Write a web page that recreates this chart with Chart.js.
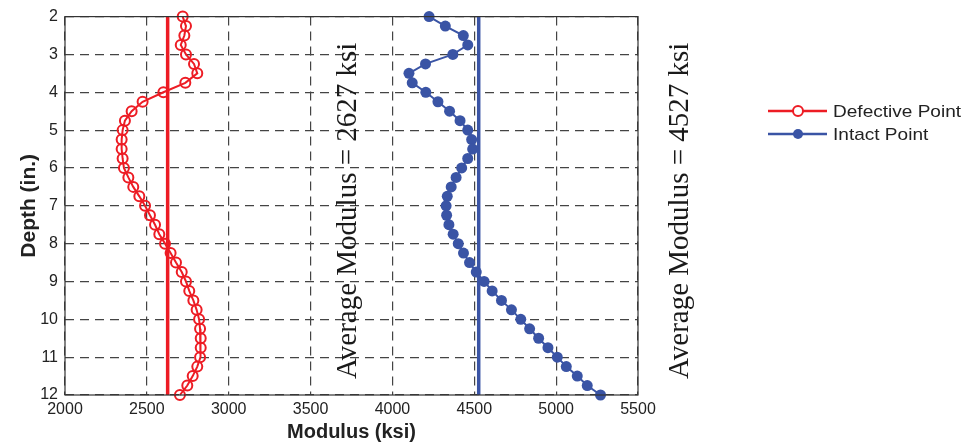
<!DOCTYPE html>
<html>
<head>
<meta charset="utf-8">
<script src="https://cdn.jsdelivr.net/npm/chart.js@4"></script>
<style>
  html, body { margin: 0; padding: 0; background: #fff; }
  #wrap { width: 964px; height: 444px; position: relative; }
</style>
</head>
<body>
<div id="wrap"><canvas id="c" width="964" height="444"></canvas></div>
<script>
// ---- data ----
const depths = [2,2.25,2.5,2.75,3,3.25,3.5,3.75,4,4.25,4.5,4.75,5,5.25,5.5,5.75,6,6.25,6.5,6.75,7,
  7.25,7.5,7.75,8,8.25,8.5,8.75,9,9.25,9.5,9.75,10,10.25,10.5,10.75,11,11.25,11.5,11.75,12];
const defectiveModulus = [2719,2739,2729,2707,2739,2788,2808,2735,2601,2474,2407,2366,2352,2346,2346,2352,2360,2387,2417,2454,2489,
  2519,2550,2576,2611,2645,2678,2713,2739,2759,2784,2804,2819,2825,2829,2829,2825,2808,2780,2747,2702];
const intactModulus = [4224,4323,4433,4460,4369,4202,4101,4121,4204,4278,4349,4413,4460,4484,4490,4460,4423,4389,4359,4335,4328,
  4331,4345,4371,4402,4434,4471,4512,4560,4609,4666,4727,4784,4838,4893,4950,5007,5062,5129,5190,5271];
const defectiveAverage = 2627;
const intactAverage = 4527;
const seriesNames = ['Defective Point', 'Intact Point'];
const annotationTexts = ['Average Modulus = 2627 ksi', 'Average Modulus = 4527 ksi'];
const xTicks = [2000,2500,3000,3500,4000,4500,5000,5500];
const yTicks = [2,3,4,5,6,7,8,9,10,11,12];

const RED = '#ED1C24';
const BLUE = '#3A54A5';
const SANS = '"Liberation Sans", Arial, Helvetica, sans-serif';

const toPts = (xs) => xs.map((v, i) => ({x: v, y: depths[i]}));

const boxPlugin = {
  id: 'boxAndText',
  afterDraw(chart) {
    const ctx = chart.ctx;
    const a = chart.chartArea;
    const ys = chart.scales.y;
    ctx.save();
    ctx.strokeStyle = '#333';
    ctx.lineWidth = 1.2;
    ctx.setLineDash([]);
    ctx.strokeRect(a.left, a.top, a.right - a.left, a.bottom - a.top);
    // annotations
    ctx.fillStyle = '#1a1a1a';
    ctx.font = '29px "Liberation Serif", "Times New Roman", serif';
    ctx.textAlign = 'center';
    ctx.textBaseline = 'middle';
    const yc = (ys.getPixelForValue(2) + ys.getPixelForValue(12)) / 2 + 5;
    [[348, annotationTexts[0]], [680, annotationTexts[1]]].forEach(([x, t]) => {
      ctx.save();
      ctx.translate(x, yc);
      ctx.rotate(-Math.PI / 2);
      ctx.fillText(t, 0, 0);
      ctx.restore();
    });
    // legend
    const items = [
      {name: seriesNames[0], color: RED, filled: false, y: 111},
      {name: seriesNames[1], color: BLUE, filled: true, y: 134}
    ];
    ctx.font = '17px ' + SANS;
    ctx.textAlign = 'left';
    items.forEach(it => {
      ctx.strokeStyle = it.color;
      ctx.lineWidth = 2.5;
      ctx.beginPath();
      ctx.moveTo(768, it.y); ctx.lineTo(827, it.y);
      ctx.stroke();
      ctx.beginPath();
      ctx.arc(798, it.y, 5, 0, Math.PI * 2);
      if (it.filled) { ctx.fillStyle = it.color; ctx.fill(); }
      else { ctx.fillStyle = '#fff'; ctx.fill(); ctx.lineWidth = 2; ctx.stroke(); }
      ctx.fillStyle = '#222';
      ctx.save();
      ctx.translate(833, it.y + 1);
      ctx.scale(1.12, 1);
      ctx.fillText(it.name, 0, 0);
      ctx.restore();
    });
    ctx.restore();
  }
};

new Chart(document.getElementById('c'), {
  type: 'scatter',
  data: {
    datasets: [
      {
        label: 'Defective avg', data: [{x: defectiveAverage, y: 2}, {x: defectiveAverage, y: 12}],
        showLine: true, borderColor: RED, borderWidth: 3.5, pointRadius: 0, order: 3
      },
      {
        label: 'Intact avg', data: [{x: intactAverage, y: 2}, {x: intactAverage, y: 12}],
        showLine: true, borderColor: BLUE, borderWidth: 3.5, pointRadius: 0, order: 3
      },
      {
        label: seriesNames[0], data: toPts(defectiveModulus), showLine: true,
        borderColor: RED, borderWidth: 2, pointRadius: 5, pointBorderWidth: 2,
        pointBackgroundColor: 'rgba(255,255,255,0)', pointBorderColor: RED, order: 1
      },
      {
        label: seriesNames[1], data: toPts(intactModulus), showLine: true,
        borderColor: BLUE, borderWidth: 2, pointRadius: 5.5, pointBorderWidth: 0,
        pointBackgroundColor: BLUE, pointBorderColor: BLUE, order: 2
      }
    ]
  },
  options: {
    responsive: false,
    animation: false,
    clip: false,
    layout: { padding: { left: 0, top: 15, right: 326, bottom: 0 } },
    plugins: { legend: { display: false }, tooltip: { enabled: false } },
    scales: {
      x: {
        type: 'linear', min: 2000, max: 5500,
        afterBuildTicks: (s) => { s.ticks = xTicks.map(v => ({value: v})); },
        afterFit: (s) => { s.height = 49; },
        grid: { color: '#444', lineWidth: 1.2, drawTicks: false },
        border: { display: false, dash: [9, 6] },
        ticks: { color: '#222', font: { family: SANS, size: 16 }, padding: 5, maxRotation: 0, callback: (v) => String(v) },
        title: { display: true, text: 'Modulus (ksi)', color: '#222', font: { family: SANS, size: 20, weight: 'bold' }, padding: { top: 0, bottom: 0 } }
      },
      y: {
        type: 'linear', min: 2, max: 12, reverse: true,
        afterBuildTicks: (s) => { s.ticks = yTicks.map(v => ({value: v})); },
        afterFit: (s) => { s.width = 65; },
        grid: { color: '#444', lineWidth: 1.2, drawTicks: false },
        border: { display: false, dash: [9, 6] },
        ticks: { color: '#222', font: { family: SANS, size: 16 }, padding: 7, callback: (v) => String(v) },
        title: { display: true, text: 'Depth (in.)', color: '#222', font: { family: SANS, size: 21, weight: 'bold' }, padding: { top: 17, bottom: 0 } }
      }
    }
  },
  plugins: [boxPlugin]
});
</script>
</body>
</html>
